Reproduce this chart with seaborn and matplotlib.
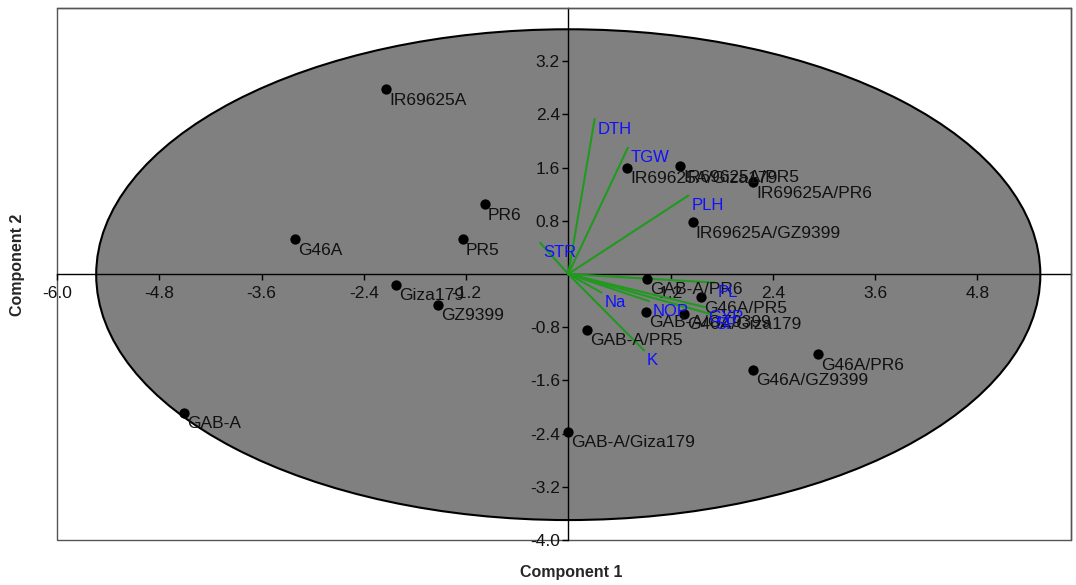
"""PCA biplot of genotypes and trait loadings on the first two components."""

import matplotlib.pyplot as plt
import pandas as pd
import seaborn as sns
from matplotlib.patches import Ellipse, Rectangle

# Genotype scores
genotypes = [
    "IR69625A", "PR6", "PR5", "G46A", "Giza179", "GZ9399", "GAB-A",
    "GAB-A/Giza179", "GAB-A/PR5", "GAB-A/GZ9399", "GAB-A/PR6",
    "G46A/Giza179", "G46A/PR5", "G46A/GZ9399", "G46A/PR6",
    "IR69625A/Giza179", "IR69625A/PR5", "IR69625A/PR6", "IR69625A/GZ9399",
]
pc1 = [-2.14, -0.98, -1.24, -3.21, -2.02, -1.53, -4.51,
       0.00, 0.22, 0.91, 0.92,
       1.36, 1.56, 2.17, 2.93,
       0.69, 1.31, 2.17, 1.46]
pc2 = [2.78, 1.05, 0.52, 0.52, -0.16, -0.46, -2.09,
       -2.37, -0.84, -0.57, -0.07,
       -0.60, -0.35, -1.44, -1.21,
       1.60, 1.62, 1.38, 0.78]

# Trait loadings (scaled vectors)
traits = ["DTH", "TGW", "PLH", "STR", "Na", "NOP", "K", "PL", "GYP", "SF"]
load1 = [0.31, 0.70, 1.41, -0.33, 0.39, 0.95, 0.89, 1.72, 1.61, 1.69]
load2 = [2.33, 1.90, 1.18, 0.47, -0.28, -0.41, -1.15, -0.13, -0.50, -0.61]

x_ticks = [-6.0, -4.8, -3.6, -2.4, -1.2, 1.2, 2.4, 3.6, 4.8]
y_ticks = [-4.0, -3.2, -2.4, -1.6, -0.8, 0.8, 1.6, 2.4, 3.2]

scores = pd.DataFrame({"genotype": genotypes, "pc1": pc1, "pc2": pc2})

sns.set_style("white")
plt.rcParams["font.family"] = ["Liberation Sans", "DejaVu Sans"]

fig = plt.figure(figsize=(10.76, 5.85), dpi=100)
ax = fig.add_axes([57 / 1076, 45 / 585, 1014 / 1076, 532 / 585])
ax.set_xlim(-6.0, 5.9)
ax.set_ylim(-4.0, 4.0)
ax.set_axisbelow(False)

# confidence ellipse
ax.add_patch(Ellipse((0, -0.01), 2 * 5.54, 2 * 3.69, facecolor="#808080",
                     edgecolor="black", linewidth=1.5, zorder=1))

# axes through the origin, frame around the plot
ax.spines["left"].set_position(("data", 0))
ax.spines["bottom"].set_position(("data", 0))
for side in ["left", "bottom"]:
    ax.spines[side].set_color("black")
    ax.spines[side].set_linewidth(1.0)
    ax.spines[side].set_zorder(2)
for side in ["top", "right"]:
    ax.spines[side].set_color("#555555")
    ax.spines[side].set_linewidth(1.0)
ax.add_patch(Rectangle((0, 0), 1, 1, transform=ax.transAxes, fill=False,
                       edgecolor="#555555", linewidth=1.0, clip_on=False, zorder=0))

ax.set_xticks(x_ticks)
ax.set_yticks(y_ticks)
ax.set_xticklabels([f"{v:.1f}" for v in x_ticks])
ax.set_yticklabels([f"{v:.1f}" for v in y_ticks])
ax.tick_params(axis="both", direction="out", length=4, width=1, color="black",
               labelsize=12.5, labelcolor="#111111", bottom=True, left=True)
ax.tick_params(axis="x", pad=5)
ax.tick_params(axis="y", pad=2)

# loading vectors
for name, lx, ly in zip(traits, load1, load2):
    ax.plot([0, lx], [0, ly], color="#1f9a1f", linewidth=1.5, zorder=3)

# genotype scores
sns.scatterplot(data=scores, x="pc1", y="pc2", ax=ax, color="black", s=55,
                edgecolor="black", linewidth=0, zorder=4, legend=False)
for name, sx, sy in zip(genotypes, pc1, pc2):
    ax.annotate(name, (sx, sy), xytext=(3, -11), textcoords="offset pixels",
                ha="left", va="center", fontsize=12.5, color="#111111", zorder=5)

for name, lx, ly in zip(traits, load1, load2):
    ax.annotate(name, (lx, ly), xytext=(3, -10), textcoords="offset pixels",
                ha="left", va="center", fontsize=12, color="#1010ff", zorder=6)

ax.set_xlabel("")
ax.set_ylabel("")
fig.text(571 / 1076, 1 - 573 / 585, "Component 1", ha="center", va="center",
         fontsize=11.5, fontweight="bold")
fig.text(18 / 1076, 1 - 265 / 585, "Component 2", ha="center", va="center",
         rotation=90, fontsize=11.5, fontweight="bold")

fig.savefig("out.png", dpi=100)
plt.close(fig)
